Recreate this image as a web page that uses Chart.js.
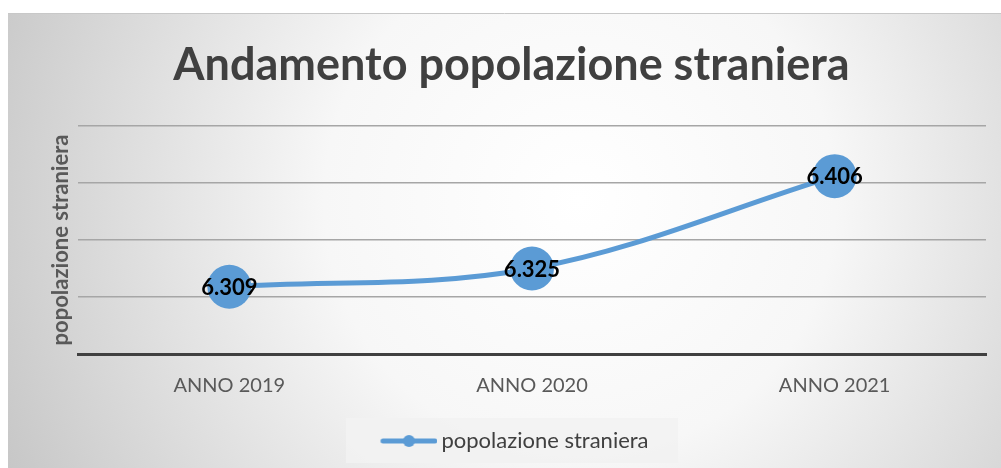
<!DOCTYPE html>
<html>
<head>
<meta charset="utf-8">
<script src="https://cdn.jsdelivr.net/npm/chart.js@4.4.0/dist/chart.umd.min.js"></script>
<style>
  html, body { margin: 0; padding: 0; background: #fff; overflow: hidden; }
  #wrap { width: 1001px; height: 468px; }
  canvas { display: block; }
</style>
</head>
<body>
<div id="wrap"><canvas id="graph"></canvas></div>
<script>
const anni = ['ANNO 2019', 'ANNO 2020', 'ANNO 2021']
const stranieri = [6.309, 6.325, 6.406]
const etichette = ['6.309', '6.325', '6.406']

const blu = '#5b9bd5'

// little line+dot picture for the legend
const simbolo = document.createElement('canvas')
simbolo.width = 70
simbolo.height = 14
{
  const c = simbolo.getContext('2d')
  c.strokeStyle = blu
  c.lineWidth = 5
  c.lineCap = 'round'
  c.beginPath()
  c.moveTo(15.5, 7)
  c.lineTo(67.5, 7)
  c.stroke()
  c.fillStyle = blu
  c.beginPath()
  c.arc(41.5, 7, 6, 0, Math.PI * 2)
  c.fill()
}

const sfondo = {
  id: 'sfondo',
  beforeDraw(chart) {
    const ctx = chart.ctx
    const w = chart.width, h = chart.height
    ctx.save()
    ctx.fillStyle = '#ffffff'
    ctx.fillRect(0, 0, w, h)
    const g = ctx.createRadialGradient(580, 200, 0, 580, 200, 640)
    g.addColorStop(0, '#ffffff')
    g.addColorStop(0.4, '#f7f7f7')
    g.addColorStop(1, '#c6c6c6')
    ctx.fillStyle = g
    ctx.fillRect(8, 13, w - 8, h - 13)
    ctx.strokeStyle = '#c8c8c8'
    ctx.lineWidth = 1
    ctx.beginPath()
    ctx.moveTo(8, 13.5)
    ctx.lineTo(w, 13.5)
    ctx.stroke()
    // legend panel
    const l = chart.legend
    const cy = l.top + l.height / 2
    ctx.fillStyle = 'rgba(242,242,242,0.9)'
    ctx.fillRect(346, cy - 22, 332, 45)
    ctx.restore()
  }
}

const valori = {
  id: 'valori',
  afterDatasetsDraw(chart) {
    const ctx = chart.ctx
    const meta = chart.getDatasetMeta(0)
    ctx.save()
    ctx.font = 'bold 22px Lato'
    ctx.fillStyle = '#000000'
    ctx.textAlign = 'center'
    ctx.textBaseline = 'middle'
    meta.data.forEach((p, i) => {
      ctx.fillText(etichette[i], p.x, p.y + 1)
    })
    ctx.restore()
  }
}

const chart = new Chart(
  document.getElementById('graph'),
  {
    type: 'line',
    plugins: [sfondo, valori],
    data: {
      labels: anni,
      datasets: [
        {
          label: 'popolazione straniera',
          data: stranieri,
          borderColor: blu,
          backgroundColor: blu,
          borderWidth: 5,
          pointStyle: 'circle',
          pointRadius: 22,
          pointHoverRadius: 22,
          pointBorderWidth: 0,
          pointBackgroundColor: blu,
          tension: 0.35
        }
      ]
    },
    options: {
      responsive: true,
      maintainAspectRatio: false,
      animation: false,
      events: [],
      layout: { autoPadding: false, padding: { left: 37, right: 15, top: 13, bottom: 6 } },
      scales: {
        x: {
          offset: true,
          grid: { display: false, drawTicks: false },
          border: { display: true, color: '#404040', width: 3 },
          ticks: { color: '#595959', font: { family: 'Lato', size: 20 }, padding: 20 },
          afterFit: s => {
            s.height = 64
            s.paddingLeft = 0
            s.paddingRight = 0
          }
        },
        y: {
          min: 6.25,
          max: 6.45,
          ticks: { display: false, stepSize: 0.05 },
          grid: { color: '#a6a6a6', lineWidth: 1.5, drawTicks: false },
          border: { display: false },
          title: {
            display: true,
            text: 'popolazione straniera',
            color: '#595959',
            font: { family: 'Lato', size: 22, weight: 'bold' },
            padding: { top: 11, bottom: 0 }
          },
          afterFit: s => { s.width = 41 }
        }
      },
      plugins: {
        title: {
          display: true,
          text: 'Andamento popolazione straniera',
          color: '#404040',
          font: { family: 'Lato', size: 45, weight: 'bold' },
          padding: { top: 25, bottom: 34 }
        },
        legend: {
          position: 'bottom',
          labels: {
            color: '#404040',
            font: { family: 'Lato', size: 22 },
            usePointStyle: true,
            pointStyleWidth: 56,
            padding: 12,
            generateLabels: ch => [{
              text: ch.data.datasets[0].label,
              pointStyle: simbolo,
              fontColor: '#404040',
              lineWidth: 0,
              strokeStyle: 'transparent',
              fillStyle: blu,
              datasetIndex: 0
            }]
          }
        },
        tooltip: { enabled: false }
      }
    }
  }
)
</script>
</body>
</html>
